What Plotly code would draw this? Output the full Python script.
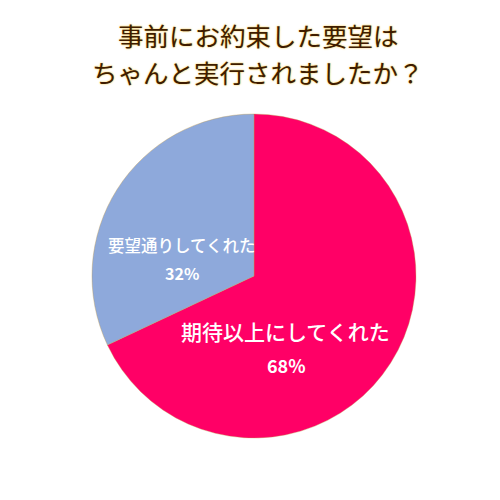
import plotly.graph_objects as go

labels = ["期待以上にしてくれた", "要望通りしてくれた"]
values = [68, 32]
colors = ["#FF0066", "#8EA9DB"]
title_lines = ["事前にお約束した要望は", "ちゃんと実行されましたか？"]

fig = go.Figure(go.Pie(
    labels=labels, values=values, sort=False, direction="clockwise", rotation=0,
    marker=dict(colors=colors, line=dict(color="rgba(190,150,70,0.6)", width=0.6)),
    textinfo="none", hoverinfo="label+percent", showlegend=False,
    domain=dict(x=[0.166, 0.818], y=[0.14, 0.788]),
))

font_jp = "Noto Sans CJK JP"
glow = "0px 0px 2px #f2c230"
for line, yc in zip(title_lines, [26, 63]):
    fig.add_annotation(text=line, x=0.5, y=1 - yc/500, xref="paper", yref="paper",
                       showarrow=False, yanchor="middle",
                       font=dict(family=font_jp, size=25.5, color="#3f1c00", shadow=glow))

# slice labels
pos = [((277, 340), (278, 372), 21, 18), ((174, 237), (174, 265), 16.5, 16)]
for lab, val, (p1, p2, s1, s2) in zip(labels, values, pos):
    fig.add_annotation(text=lab, x=p1[0]/500, y=1 - p1[1]/500, xref="paper", yref="paper",
                       showarrow=False, font=dict(family=font_jp, size=s1, color="white", weight=500))
    fig.add_annotation(text=f"<b>{val}%</b>", x=p2[0]/500, y=1 - p2[1]/500, xref="paper", yref="paper",
                       showarrow=False, font=dict(family=font_jp, size=s2, color="white"))

fig.update_layout(width=500, height=500, margin=dict(l=0, r=0, t=0, b=0),
                  paper_bgcolor="white", plot_bgcolor="white")
fig.write_html("out.html")
